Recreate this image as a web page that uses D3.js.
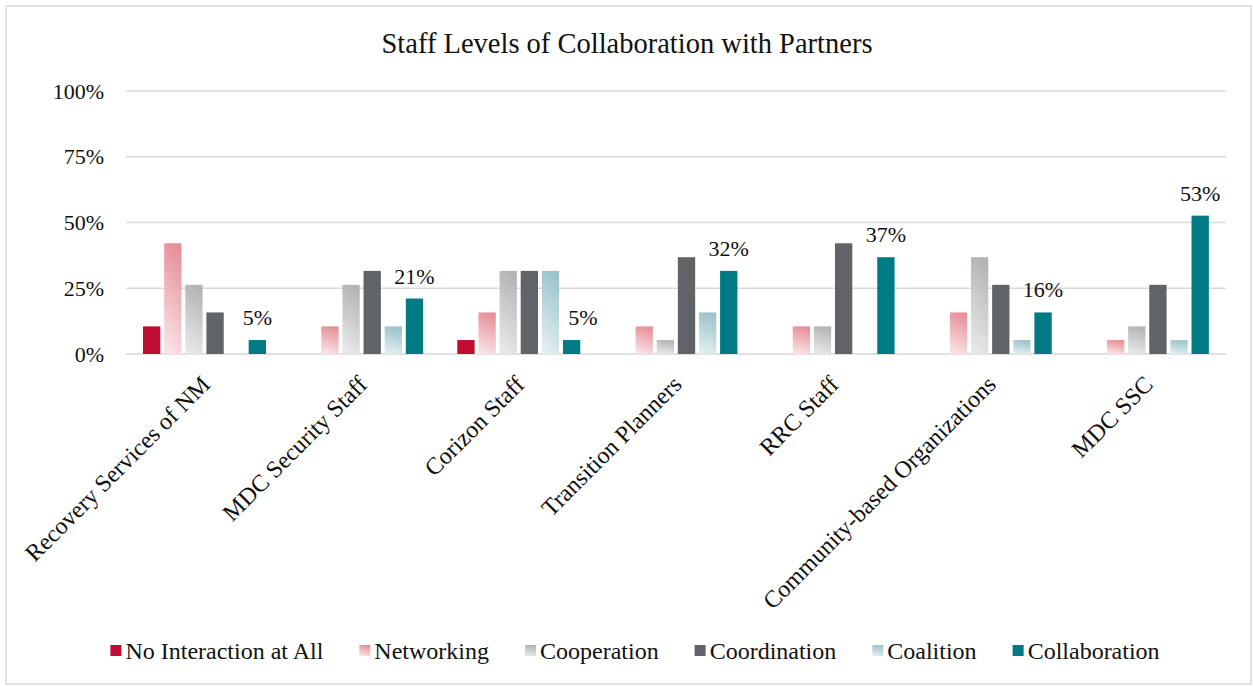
<!DOCTYPE html>
<html>
<head>
<meta charset="utf-8">
<script src="https://cdn.jsdelivr.net/npm/d3@7"></script>
<style>
  html, body { margin: 0; padding: 0; background: #fff; }
  svg { display: block; font-family: "Liberation Serif", "Times New Roman", serif; }
</style>
</head>
<body>
<svg id="chart" width="1253" height="686"></svg>
<script>
// ======================
// Dades
// ======================
const categories = [
  "Recovery Services of NM",
  "MDC Security Staff",
  "Corizon Staff",
  "Transition Planners",
  "RRC Staff",
  "Community-based Organizations",
  "MDC SSC"
];

const seriesNames = ["No Interaction at All", "Networking", "Cooperation", "Coordination", "Coalition", "Collaboration"];

const noInteraction = [0.105, 0, 0.053, 0, 0, 0, 0];
const networking    = [0.421, 0.105, 0.158, 0.105, 0.105, 0.158, 0.053];
const cooperation   = [0.263, 0.263, 0.316, 0.053, 0.105, 0.368, 0.105];
const coordination  = [0.158, 0.316, 0.316, 0.368, 0.421, 0.263, 0.263];
const coalition     = [0, 0.105, 0.316, 0.158, 0, 0.053, 0.053];
const collaboration = [0.053, 0.211, 0.053, 0.316, 0.368, 0.158, 0.526];

const seriesValues = [noInteraction, networking, cooperation, coordination, coalition, collaboration];

const yTicks = [0, 0.25, 0.5, 0.75, 1];

// fill: color sòlid o gradient [dalt, baix]
const fills = [
  { solid: "#bf0d31" },
  { grad: ["#e68e97", "#f8e3e6"] },
  { grad: ["#b2b3b5", "#e8e8e8"] },
  { solid: "#606368" },
  { grad: ["#9bc2ca", "#e2eef0"] },
  { solid: "#007a84" }
];

// ======================
// Dibuix
// ======================
const svg = d3.select("#chart");
const width = 1253, height = 686;

// marc
svg.append("rect")
  .attr("x", 6).attr("y", 6)
  .attr("width", width - 8).attr("height", height - 8)
  .attr("fill", "#fff")
  .attr("stroke", "#d9d9d9")
  .attr("stroke-width", 1.5);

const defs = svg.append("defs");
fills.forEach((f, i) => {
  if (!f.grad) return;
  const g = defs.append("linearGradient")
    .attr("id", "grad-" + i)
    .attr("x1", "0.6").attr("y1", "0")
    .attr("x2", "0.4").attr("y2", "1");
  g.append("stop").attr("offset", "0%").attr("stop-color", f.grad[0]);
  g.append("stop").attr("offset", "100%").attr("stop-color", f.grad[1]);
});
const fillOf = i => fills[i].grad ? `url(#grad-${i})` : fills[i].solid;

const plot = { left: 126, right: 1226, top: 91, bottom: 354 };

const x0 = d3.scaleBand()
  .domain(categories)
  .range([plot.left, plot.right]);

const x1 = d3.scaleBand()
  .domain(seriesNames)
  .range([17, 140])
  .paddingInner(0.18);

const y = d3.scaleLinear()
  .domain([0, 1])
  .range([plot.bottom, plot.top]);

// títol
svg.append("text")
  .attr("x", 627)
  .attr("y", 53)
  .attr("text-anchor", "middle")
  .style("font-size", "28.5px")
  .style("fill", "#111")
  .text("Staff Levels of Collaboration with Partners");

// graella
svg.append("g")
  .selectAll("line")
  .data(yTicks)
  .join("line")
  .attr("x1", plot.left).attr("x2", plot.right)
  .attr("y1", d => y(d)).attr("y2", d => y(d))
  .attr("stroke", "#d9d9d9")
  .attr("stroke-width", 1.5);

// eix Y
const yAxis = d3.axisLeft(y)
  .tickValues(yTicks)
  .tickFormat(d3.format(".0%"))
  .tickSize(0)
  .tickPadding(22);

svg.append("g")
  .attr("transform", `translate(${plot.left},0)`)
  .call(yAxis)
  .call(g => g.select(".domain").remove())
  .selectAll("text")
  .style("font-family", "'Liberation Serif', 'Times New Roman', serif")
  .style("font-size", "22px")
  .style("fill", "#111");

// barres
const groups = svg.append("g")
  .selectAll("g")
  .data(categories)
  .join("g")
  .attr("transform", d => `translate(${x0(d)},0)`);

groups.selectAll("rect")
  .data((c, ci) => seriesNames.map((s, si) => ({ s, si, v: seriesValues[si][ci] })))
  .join("rect")
  .filter(d => d.v > 0)
  .attr("x", d => x1(d.s))
  .attr("width", x1.bandwidth())
  .attr("y", d => y(d.v))
  .attr("height", d => y(0) - y(d.v))
  .attr("fill", d => fillOf(d.si));

// etiquetes de dades (Collaboration)
// si la barra Coalition tapa l'etiqueta, es desplaça a la dreta
const labelY = ci => y(collaboration[ci]) - 15;
const blocked = ci => y(coalition[ci]) < labelY(ci);

groups.append("text")
  .attr("x", (c, ci) => blocked(ci)
    ? x1("Coalition") + x1.bandwidth() + 9
    : x1("Collaboration") + x1.bandwidth() / 2)
  .attr("y", (c, ci) => labelY(ci))
  .attr("text-anchor", (c, ci) => blocked(ci) ? "start" : "middle")
  .style("font-size", "22px")
  .style("fill", "#111")
  .text((c, ci) => d3.format(".0%")(collaboration[ci]));

// etiquetes de categoria
svg.append("g")
  .selectAll("text")
  .data(categories)
  .join("text")
  .attr("transform", d => `translate(${x0(d) + x0.bandwidth() / 2 + 7},386) rotate(-45)`)
  .attr("text-anchor", "end")
  .style("font-size", "24px")
  .style("fill", "#111")
  .text(d => d);

// llegenda
const legend = svg.append("g");
const items = legend.selectAll("g")
  .data(seriesNames)
  .join("g");

items.append("rect")
  .attr("width", 11).attr("height", 11)
  .attr("y", -6)
  .attr("fill", (d, i) => fillOf(i));

items.append("text")
  .attr("x", 15)
  .attr("y", 0)
  .attr("dy", "0.35em")
  .style("font-size", "24px")
  .style("fill", "#111")
  .text(d => d);

let cursor = 0;
const itemGap = 36;
const positions = [];
items.each(function () {
  const w = 15 + this.querySelector("text").getComputedTextLength();
  positions.push(cursor);
  cursor += w + itemGap;
});
const totalW = cursor - itemGap;
const startX = 635 - totalW / 2;
items.attr("transform", (d, i) => `translate(${startX + positions[i]},651)`);
</script>
</body>
</html>
